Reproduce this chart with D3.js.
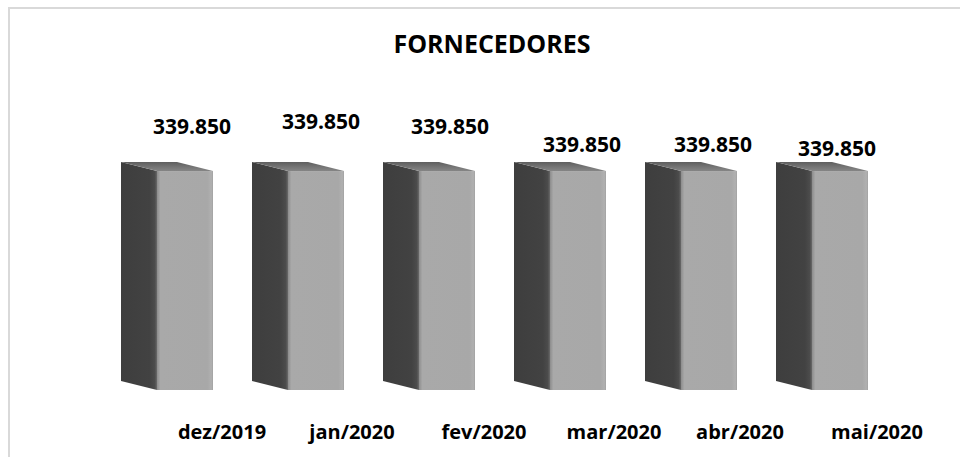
<!DOCTYPE html>
<html>
<head>
<meta charset="utf-8">
<script src="https://cdn.jsdelivr.net/npm/d3@7"></script>
<style>
  body { margin: 0; background: #fff; }
  svg { display: block; font-family: "Open Sans", "Noto Sans", sans-serif; }
</style>
</head>
<body>
<div id="chart"></div>
<script>
// data
const categories = ["dez/2019", "jan/2020", "fev/2020", "mar/2020", "abr/2020", "mai/2020"];
const values = [339850, 339850, 339850, 339850, 339850, 339850];
const title = "FORNECEDORES";

const width = 960;
const height = 457;

// labels were moved by hand in the original, keep the nudges here
const valueNudge = [[7, -3], [5, -8], [3, -3], [4, 15], [4, 15], [-3, 19]];
const catNudge = [6, 5, 6, 5, 0, 6];

const depthX = 36, depthY = 9;

const svg = d3.select("#chart").append("svg")
    .attr("width", width)
    .attr("height", height)
    .attr("viewBox", [0, 0, width, height]);

// frame (runs off the right and bottom edges)
svg.append("rect")
    .attr("x", 9).attr("y", 8)
    .attr("width", 1000).attr("height", 500)
    .attr("fill", "#fff")
    .attr("stroke", "#d9d9d9")
    .attr("stroke-width", 2);

const defs = svg.append("defs");

const frontGrad = defs.append("linearGradient").attr("id", "front");
frontGrad.selectAll("stop")
    .data([[0, "#8c8c8c"], [0.06, "#a9a9a9"], [0.9, "#a8a8a8"], [0.97, "#b0b0b0"], [1, "#a2a2a2"]])
    .join("stop")
        .attr("offset", d => d[0])
        .attr("stop-color", d => d[1]);

const sideGrad = defs.append("linearGradient").attr("id", "side");
sideGrad.selectAll("stop")
    .data([[0, "#3e3e3e"], [0.8, "#424242"], [0.94, "#4c4c4c"], [1, "#6a6a6a"]])
    .join("stop")
        .attr("offset", d => d[0])
        .attr("stop-color", d => d[1]);

const topGrad = defs.append("linearGradient").attr("id", "top")
    .attr("x1", 0).attr("y1", 0).attr("x2", 0).attr("y2", 1);
topGrad.selectAll("stop")
    .data([[0, "#5e5e5e"], [0.5, "#737373"], [1, "#858585"]])
    .join("stop")
        .attr("offset", d => d[0])
        .attr("stop-color", d => d[1]);

// x band covers the side face + front face
const x = d3.scaleBand()
    .domain(categories)
    .range([121, 868])
    .paddingInner(39 / 131)
    .paddingOuter(0);

const y = d3.scaleLinear()
    .domain([0, 350000])
    .range([390, 164.5]);

const frontW = x.bandwidth() - depthX;

const bars = svg.append("g")
    .selectAll("g")
    .data(categories.map((c, i) => ({cat: c, value: values[i], i: i})))
    .join("g");

// left (dark) face
bars.append("path")
    .attr("fill", "url(#side)")
    .attr("d", d => {
        const fx = x(d.cat) + depthX;
        const t = y(d.value), b = y(0);
        return `M${fx - depthX},${t - depthY}L${fx},${t}L${fx},${b}L${fx - depthX},${b - depthY}Z`;
    });

// top face
bars.append("path")
    .attr("fill", "url(#top)")
    .attr("d", d => {
        const fx = x(d.cat) + depthX;
        const t = y(d.value);
        return `M${fx - depthX},${t - depthY}L${fx + frontW - depthX},${t - depthY}L${fx + frontW},${t}L${fx},${t}Z`;
    });

// front face
bars.append("rect")
    .attr("fill", "url(#front)")
    .attr("x", d => x(d.cat) + depthX)
    .attr("y", d => y(d.value))
    .attr("width", frontW)
    .attr("height", d => y(0) - y(d.value));

// value labels
const fmt = v => d3.format(",")(v).replace(/,/g, ".");
bars.append("text")
    .attr("text-anchor", "middle")
    .attr("font-weight", "bold")
    .attr("font-size", 21)
    .attr("fill", "#000")
    .attr("x", d => x(d.cat) + depthX + frontW / 2 + valueNudge[d.i][0])
    .attr("y", d => y(d.value) - 34 + valueNudge[d.i][1])
    .text(d => fmt(d.value));

// category labels
bars.append("text")
    .attr("text-anchor", "middle")
    .attr("font-weight", "bold")
    .attr("font-size", 20)
    .attr("fill", "#000")
    .attr("x", d => x(d.cat) + depthX + frontW / 2 + 31 + catNudge[d.i])
    .attr("y", y(0) + 49)
    .text(d => d.cat);

svg.append("text")
    .attr("x", 492)
    .attr("y", 53)
    .attr("text-anchor", "middle")
    .attr("font-weight", "bold")
    .attr("font-size", 25)
    .text(title);
</script>
</body>
</html>
